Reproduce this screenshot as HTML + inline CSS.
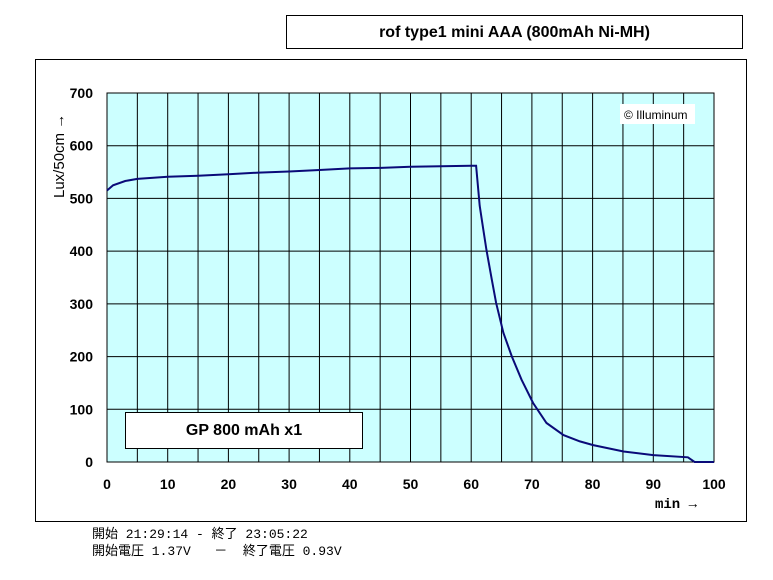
<!DOCTYPE html>
<html><head><meta charset="utf-8"><style>
body{margin:0;width:773px;height:580px;background:#fff;position:relative;overflow:hidden;font-family:"Liberation Sans","Noto Sans CJK JP",sans-serif}
.abs{position:absolute}
</style></head><body>
<div class="abs" style="left:286px;top:15px;width:455px;height:32px;border:1px solid #000;text-align:center;line-height:33px;font-weight:bold;font-size:16px">rof type1 mini AAA (800mAh Ni-MH)</div>
<div class="abs" style="left:35px;top:59px;width:710px;height:461px;border:1px solid #000"></div>
<svg class="abs" style="left:0;top:0" width="773" height="580">
<g id="grid"></g>
<path id="line" fill="none" stroke="#0a0a78" stroke-width="2"/>
<g id="ticks" font-family="Liberation Sans, sans-serif" font-weight="bold" font-size="14"></g>
<text x="64" y="198" transform="rotate(-90 64 198)" font-size="15" font-family="Liberation Sans, sans-serif" text-anchor="start">Lux/50cm →</text>
<text x="655" y="508" font-size="14" font-family="Liberation Mono, monospace" font-weight="bold">min →</text>
<rect x="620" y="104" width="75" height="20" fill="#fff"/>
<text x="624" y="119" font-size="12" font-family="Liberation Sans, sans-serif">© Illuminum</text>
</svg>
<div class="abs" style="left:125px;top:412px;width:236px;height:35px;border:1px solid #000;background:#fff;text-align:center;line-height:36px;font-weight:bold;font-size:16px">GP 800 mAh x1</div>
<div class="abs" style="left:92px;top:526px;font-family:'Liberation Mono','Noto Sans CJK JP',monospace;font-size:13px;line-height:17px;white-space:pre">開始 21:29:14 - 終了 23:05:22
開始電圧 1.37V   －  終了電圧 0.93V</div>
<script>
const xTicks=[0,10,20,30,40,50,60,70,80,90,100];
const yTicks=[0,100,200,300,400,500,600,700];
const minutes=[0,1,3,5,10,15,20,25,30,35,40,45,50,55,60,60.8,61.4,62,62.5,63.4,64.1,65.3,66.7,68.3,70.2,72.4,75.2,77.9,80.1,85.1,90,95.7,96.8,100];
const lux=[515,525,533,537,541,543,546,549,551,554,557,558,560,561,562,562,486,441,403,346,302,245,200,156,112,74,51,39,32,20,13,9,0,0];
const L=107,R=714,T=93,B=462;
const xs=v=>L+(R-L)*v/100, ys=v=>B-(B-T)*v/700;
const NS="http://www.w3.org/2000/svg";
const g=document.getElementById('grid');
const bg=document.createElementNS(NS,'rect');
bg.setAttribute('x',L);bg.setAttribute('y',T);bg.setAttribute('width',R-L);bg.setAttribute('height',B-T);
bg.setAttribute('fill','#ccffff');bg.setAttribute('stroke','#000');


g.appendChild(bg);
for(let m=5;m<100;m+=5){const l=document.createElementNS(NS,'line');
l.setAttribute('x1',xs(m));l.setAttribute('x2',xs(m));l.setAttribute('y1',T);l.setAttribute('y2',B);l.setAttribute('stroke','#000');


g.appendChild(l);}
const tk=document.getElementById('ticks');
yTicks.forEach(v=>{if(v>0&&v<700){const l=document.createElementNS(NS,'line');
l.setAttribute('x1',L);l.setAttribute('x2',R);l.setAttribute('y1',ys(v));l.setAttribute('y2',ys(v));l.setAttribute('stroke','#000');


g.appendChild(l);}
const t=document.createElementNS(NS,'text');t.setAttribute('x',93);t.setAttribute('y',ys(v)+5);t.setAttribute('text-anchor','end');t.textContent=v;


tk.appendChild(t);});
xTicks.forEach(v=>{const t=document.createElementNS(NS,'text');t.setAttribute('x',xs(v));t.setAttribute('y',489);t.setAttribute('text-anchor','middle');t.textContent=v;


tk.appendChild(t);});
document.getElementById('line').setAttribute('d',minutes.map((m,i)=>(i?'L':'M')+xs(m).toFixed(1)+','+ys(lux[i]).toFixed(1)).join(''));
</script>
</body></html>
